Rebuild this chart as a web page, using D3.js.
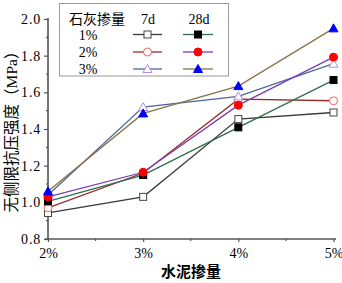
<!DOCTYPE html>
<html><head><meta charset="utf-8">
<script src="https://cdn.jsdelivr.net/npm/d3@7"></script>
<style>body{margin:0;background:#fff}svg{display:block}</style>
</head><body>
<svg id="c" width="342" height="283"></svg>
<script>
const categories = ["2%", "3%", "4%", "5%"];
const limeLabels = ["1%", "2%", "3%"];
const d7_1 = [0.942, 1.03, 1.454, 1.49];
const d7_2 = [0.97, 1.16, 1.563, 1.554];
const d7_3 = [1.04, 1.52, 1.578, 1.756];
const d28_1 = [1.005, 1.149, 1.409, 1.667];
const d28_2 = [1.03, 1.164, 1.53, 1.792];
const d28_3 = [1.06, 1.485, 1.634, 1.949];
const yTicks = [0.8, 1.0, 1.2, 1.4, 1.6, 1.8, 2.0];

const series = [
  {values: d7_1, line: "#3a3a3a", marker: "square", fill: "#fff", stroke: "#444"},
  {values: d7_2, line: "#9a2a2a", marker: "circle", fill: "#fff", stroke: "#f06060"},
  {values: d7_3, line: "#46689a", marker: "triangle", fill: "#fff", stroke: "#b08ae8"},
  {values: d28_1, line: "#2f6e4e", marker: "square", fill: "#000", stroke: "#000"},
  {values: d28_2, line: "#7a3cb4", marker: "circle", fill: "#f00", stroke: "#f00"},
  {values: d28_3, line: "#8a7248", marker: "triangle", fill: "#00f", stroke: "#00f"}
];

const svg = d3.select("#c");
const x = d3.scalePoint().domain(categories).range([48, 333.5]);
const y = d3.scaleLinear().domain([0.8, 2.0]).range([239, 19]);
const serif = "'Liberation Serif','Noto Sans CJK SC',serif";

// axes
const axCol = "#555";
const gx = svg.append("g").attr("transform", "translate(0,239)")
  .call(d3.axisBottom(x).tickSize(3).tickPadding(6));
gx.select(".domain").attr("d", "M45,0H336").attr("stroke", axCol).attr("stroke-width", 1.6);
gx.selectAll(".tick line").attr("stroke", axCol).attr("stroke-width", 1.2);
gx.selectAll(".tick text").attr("font-family", serif).attr("font-size", 14).attr("fill", "#000");
// minor x ticks
const mids = categories.slice(0, -1).map((c, i) => (x(c) + x(categories[i + 1])) / 2);
svg.append("g").selectAll("line").data(mids).join("line")
  .attr("x1", d => d).attr("x2", d => d).attr("y1", 239).attr("y2", 241)
  .attr("stroke", axCol).attr("stroke-width", 1.2);

const gy = svg.append("g").attr("transform", "translate(48,0)")
  .call(d3.axisLeft(y).tickValues(yTicks).tickFormat(d3.format(".1f")).tickSize(4).tickPadding(3));
gy.select(".domain").attr("d", "M0,18V239").attr("stroke", axCol).attr("stroke-width", 1.6);
gy.selectAll(".tick line").attr("stroke", axCol).attr("stroke-width", 1.2);
gy.selectAll(".tick text").attr("font-family", serif).attr("font-size", 14)
  .attr("letter-spacing", 0.8).attr("fill", "#000");
const minorY = d3.range(0.9, 2.0, 0.2);
svg.append("g").selectAll("line").data(minorY).join("line")
  .attr("x1", 46).attr("x2", 48).attr("y1", d => y(d)).attr("y2", d => y(d))
  .attr("stroke", axCol).attr("stroke-width", 1.2);

// titles
svg.append("text").attr("x", 191).attr("y", 277).attr("text-anchor", "middle")
  .attr("font-family", serif).attr("font-size", 15).attr("font-weight", "bold").text("水泥掺量");
svg.append("text").attr("transform", "translate(17,128) rotate(-90)").attr("text-anchor", "middle")
  .attr("font-family", serif).attr("font-size", 15.5).text("无侧限抗压强度（MPa）");

// markers
function marker(g, type, cx, cy, fill, stroke) {
  if (type === "square") {
    g.append("rect").attr("x", cx - 3.5).attr("y", cy - 3.5).attr("width", 7).attr("height", 7)
      .attr("fill", fill).attr("stroke", stroke).attr("stroke-width", 1);
  } else if (type === "circle") {
    g.append("circle").attr("cx", cx).attr("cy", cy).attr("r", 4)
      .attr("fill", fill).attr("stroke", stroke).attr("stroke-width", 1);
  } else {
    g.append("path").attr("d", `M${cx},${cy - 4.5}L${cx + 4.5},${cy + 3.5}L${cx - 4.5},${cy + 3.5}Z`)
      .attr("fill", fill).attr("stroke", stroke).attr("stroke-width", 1);
  }
}

const line = d3.line().x((d, i) => x(categories[i])).y(d => y(d));
const plot = svg.append("g");
series.forEach(s => {
  plot.append("path").datum(s.values).attr("d", line).attr("fill", "none")
    .attr("stroke", s.line).attr("stroke-width", 1.3);
});
series.forEach(s => {
  s.values.forEach((v, i) => marker(plot, s.marker, x(categories[i]), y(v), s.fill, s.stroke));
});

// legend
const lg = svg.append("g");
lg.append("rect").attr("x", 59.5).attr("y", 3.5).attr("width", 169).attr("height", 72.5)
  .attr("fill", "#fff").attr("stroke", "#999").attr("stroke-width", 1);
lg.append("text").attr("x", 97).attr("y", 24).attr("text-anchor", "middle")
  .attr("font-family", serif).attr("font-size", 14).text("石灰掺量");
lg.append("text").attr("x", 148).attr("y", 24).attr("text-anchor", "middle")
  .attr("font-family", serif).attr("font-size", 14).text("7d");
lg.append("text").attr("x", 199).attr("y", 24).attr("text-anchor", "middle")
  .attr("font-family", serif).attr("font-size", 14).text("28d");
const rowY = [34.5, 52, 69];
limeLabels.forEach((lab, i) => {
  lg.append("text").attr("x", 88).attr("y", rowY[i] + 5).attr("text-anchor", "middle")
    .attr("font-family", serif).attr("font-size", 14).text(lab);
  [series[i], series[i + 3]].forEach((s, j) => {
    const x0 = j === 0 ? 133 : 183, x1 = j === 0 ? 162 : 213;
    lg.append("line").attr("x1", x0).attr("x2", x1).attr("y1", rowY[i]).attr("y2", rowY[i])
      .attr("stroke", s.line).attr("stroke-width", 1.3);
    marker(lg, s.marker, (x0 + x1) / 2, rowY[i], s.fill, s.stroke);
  });
});
</script>
</body></html>
